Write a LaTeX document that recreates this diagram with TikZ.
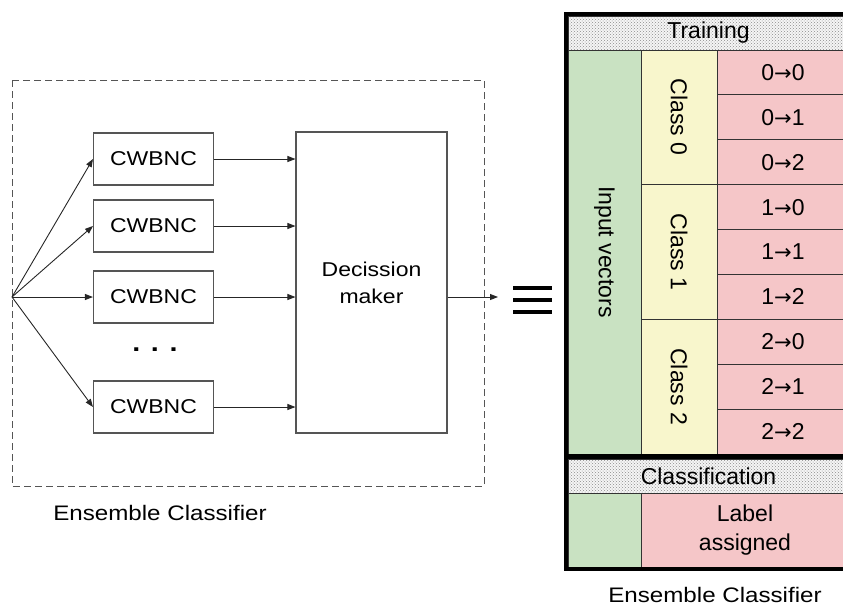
\documentclass[tikz,border=0pt]{standalone}
\usepackage{fontspec}
\setmainfont{Liberation Sans}
\newfontfamily\widefont{Liberation Sans}[FakeStretch=1.15]
\newfontfamily\arrowfont{DejaVu Sans}
\newcommand{\maparrow}{{\arrowfont\fontsize{21}{29}\selectfont →}}
\usetikzlibrary{arrows.meta, patterns, positioning}
\definecolor{vecgreen}{RGB}{201, 226, 194}
\definecolor{clsyellow}{RGB}{248, 246, 204}
\definecolor{mappink}{RGB}{245, 198, 200}
\definecolor{boxgray}{RGB}{85, 85, 85}

\begin{document}
\begin{tikzpicture}[x=1pt, y=-1pt,
    cwbox/.style={draw=boxgray, line width=1.1pt, minimum width=120pt, minimum height=52pt,
                  inner sep=0pt, font=\widefont\fontsize{20}{24}\selectfont},
    link/.style={-{Triangle[length=8pt, width=6pt]}, line width=0.9pt, draw=black!85},
    cell/.style={draw=black!80, line width=0.9pt, inner sep=0pt,
                 font=\fontsize{23}{29}\selectfont, align=center},
    hdrcell/.style={cell, preaction={fill=gray!8}, pattern=crosshatch dots,
                    pattern color=gray!90, minimum width=281pt, minimum height=34pt},
    caption/.style={font=\widefont\fontsize{21}{25}\selectfont}]
    \useasboundingbox (0,0) rectangle (843,606);

    \draw[boxgray, line width=1pt, dash pattern=on 7pt off 4pt] (12,80) rectangle (484,486);
    \coordinate (fork) at (12,297);
    \node[cwbox] (cw1) at (153.5,159) {CWBNC};
    \node[cwbox] (cw2) at (153.5,226) {CWBNC};
    \node[cwbox] (cw3) at (153.5,297) {CWBNC};
    \node[font=\widefont\fontsize{25}{25}\selectfont\bfseries] (dots) at (155,350) {. . .};
    \node[cwbox] (cw4) at (153.5,407) {CWBNC};
    \node[cwbox, minimum width=151pt, minimum height=301pt, align=center,
          font=\widefont\fontsize{20}{27}\selectfont] (dm) at (371.5,282.5) {Decission\\maker};
    \coordinate (out) at (498,297);
    \foreach \i in {1,...,4} {
        \draw[link] (fork) -- (cw\i.west);
        \draw[link] (cw\i.east) -- (dm.west |- cw\i.east);
    }
    \draw[link] (dm.east |- fork) -- (out);
    \node[caption] (lcap) at (160,513) {Ensemble Classifier};

    \foreach \k in {288,300,312}
        \draw[line width=3.6pt] (513,\k) -- (552,\k);

    \node[hdrcell] (train) at (708.5,33) {Training};
    \node[cell, fill=vecgreen, rotate=-90, minimum width=404pt, minimum height=73pt]
         (vec) at (604.5,252) {Input vectors};
    \foreach \c in {0,1,2} {
        \node[cell, fill=clsyellow, rotate=-90, minimum width=134.67pt, minimum height=76pt]
             (cls\c) at (679,{50+134.67*\c+67.33}) {Class \c};
        \foreach \r in {0,1,2}
            \node[cell, fill=mappink, minimum width=132pt, minimum height=44.89pt]
                 (map\c\r) at (783,{50+44.89*(3*\c+\r)+22.44}) {\c\maparrow\r};
    }
    \node[hdrcell] (classif) at (708.5,476) {Classification};
    \node[cell, fill=vecgreen, minimum width=73pt, minimum height=74pt] (vecb) at (604.5,530) {};
    \node[cell, fill=mappink, minimum width=208pt, minimum height=74pt] (label) at (745,530) {Label\\assigned};
    \draw[line width=4.5pt] (566,14) rectangle (852,569);
    \draw[line width=5pt] (566,456.5) -- (852,456.5);
    \node[caption] (rcap) at (715,595) {Ensemble Classifier};
\end{tikzpicture}
\end{document}
